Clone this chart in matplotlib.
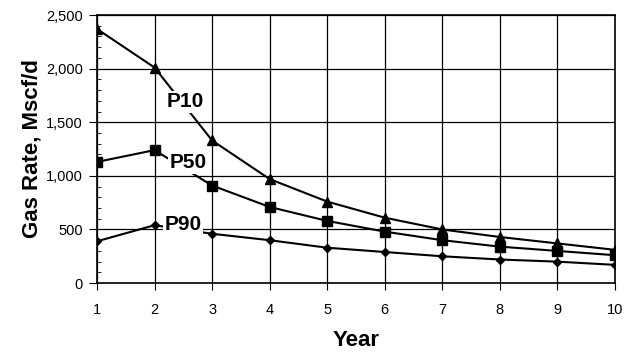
import matplotlib.pyplot as plt
from matplotlib.ticker import MultipleLocator, FuncFormatter

years = [1, 2, 3, 4, 5, 6, 7, 8, 9, 10]
p10 = [2370, 2010, 1330, 970, 760, 610, 500, 430, 370, 310]
p50 = [1130, 1240, 910, 710, 580, 480, 400, 340, 300, 260]
p90 = [390, 540, 460, 400, 330, 290, 250, 220, 200, 170]

plt.rcParams['font.family'] = ['Liberation Sans', 'DejaVu Sans']

fig = plt.figure(figsize=(6.36, 3.53), dpi=100)
ax = fig.add_axes([0.1525, 0.198, 0.8145, 0.7595])

ax.plot(years, p10, color='black', lw=1.5, marker='^', ms=6.5, zorder=3)
ax.plot(years, p50, color='black', lw=1.5, marker='s', ms=6.5, zorder=3)
ax.plot(years, p90, color='black', lw=1.5, marker='D', ms=4.5, zorder=3)

# curve labels sit over the lines with a white background
box = dict(facecolor='white', edgecolor='none', pad=1)
ax.text(2.53, 1690, 'P10', fontsize=15, fontweight='bold', ha='center', va='center', bbox=box, zorder=4)
ax.text(2.59, 1120, 'P50', fontsize=15, fontweight='bold', ha='center', va='center', bbox=box, zorder=4)
ax.text(2.5, 550, 'P90', fontsize=15, fontweight='bold', ha='center', va='center', bbox=box, zorder=4)

ax.set_xlim(1, 10)
ax.set_ylim(0, 2500)
ax.set_xticks(years)
ax.yaxis.set_major_locator(MultipleLocator(500))
ax.yaxis.set_minor_locator(MultipleLocator(100))
ax.yaxis.set_major_formatter(FuncFormatter(lambda v, p: f"{int(v):,}"))

ax.grid(True, which='major', color='black', lw=0.9)
ax.tick_params(axis='y', which='major', direction='out', length=6, labelsize=10.5, color='black', pad=4)
ax.tick_params(axis='y', which='minor', direction='in', length=3, color='black')
ax.tick_params(axis='x', which='major', direction='out', length=5, labelsize=10.5, pad=9)
for s in ax.spines.values():
    s.set_linewidth(1.2)

ax.set_xlabel('Year', fontsize=16, fontweight='bold', labelpad=10)
ax.set_ylabel('Gas Rate, Mscf/d', fontsize=16, fontweight='bold', labelpad=3)

fig.savefig('out.png', dpi=100)
